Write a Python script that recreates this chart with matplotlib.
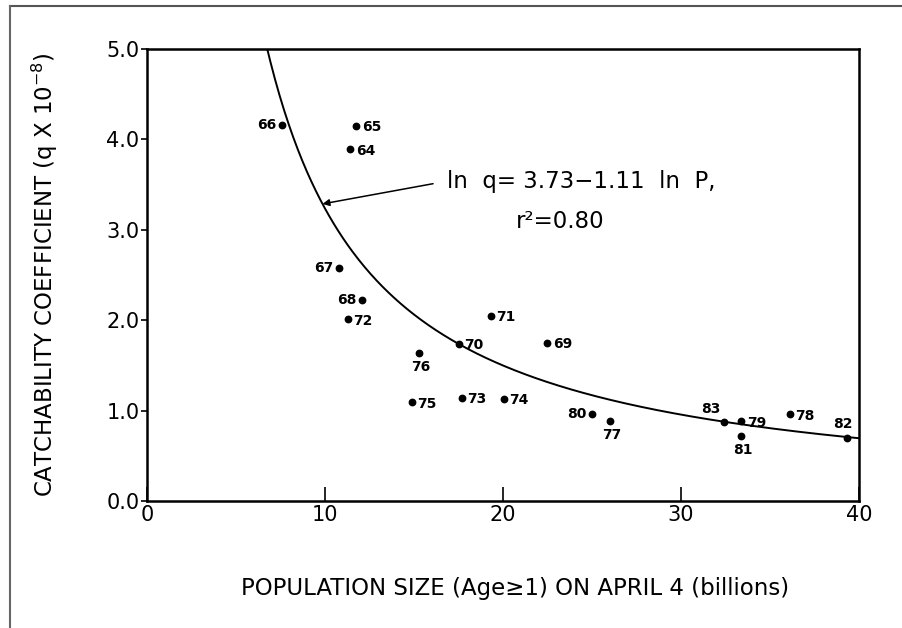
import numpy as np
import matplotlib
matplotlib.use("Agg")
import matplotlib.pyplot as plt
from matplotlib.lines import Line2D

plt.rcParams['font.family'] = ['DejaVu Sans']

# ---- data ----
years = ["66", "65", "64", "67", "68", "72", "71", "70", "69", "76", "75",
         "73", "74", "80", "77", "83", "79", "81", "78", "82"]
pop = [7.57, 11.76, 11.42, 10.79, 12.06, 11.28, 19.31, 17.51, 22.49, 15.30,
       14.87, 17.68, 20.06, 25.00, 26.03, 32.43, 33.39, 33.39, 36.11, 39.31]
q = [4.16, 4.15, 3.89, 2.58, 2.22, 2.01, 2.05, 1.74, 1.75, 1.64,
     1.09, 1.14, 1.13, 0.96, 0.885, 0.877, 0.88, 0.72, 0.96, 0.70]
# label placement: 'l' left, 'r' right, 'b' below, 'a' above-left, 'u' above
label_side = ["l", "r", "r", "l", "l", "r", "r", "r", "r", "b", "r",
              "r", "r", "l", "b", "a", "r", "b", "r", "u"]
intercept = 3.73
slope = 1.11
x_ticks = [0, 10, 20, 30, 40]
y_ticks = [0.0, 1.0, 2.0, 3.0, 4.0, 5.0]

fig = plt.figure(figsize=(9.02, 6.28), dpi=100)
ax = fig.add_axes([147/902, 1-501/628, (859-147)/902, (501-49)/628])

# regression curve
P = np.linspace(6.0, 40, 400)
Q = np.exp(intercept - slope*np.log(P))
ax.plot(P, Q, color='black', lw=1.4, zorder=2)

ax.plot(pop, q, 'o', color='black', ms=4.6, zorder=3)

offsets = {"l": (-4, 0, 'right', 'center'),
           "r": (4, -1, 'left', 'center'),
           "b": (1, -5, 'center', 'top'),
           "a": (-10, 4, 'center', 'bottom'),
           "u": (-3, 5, 'center', 'bottom')}
for lab, x, y, s in zip(years, pop, q, label_side):
    dx, dy, ha, va = offsets[s]
    ax.annotate(lab, (x, y), xytext=(dx, dy), textcoords='offset points',
                ha=ha, va=va, fontsize=10, fontweight='bold', zorder=4)

# equation annotation
ax.annotate("", xy=(9.86, np.exp(intercept - slope*np.log(9.86))),
            xytext=(16.07, 3.51),
            arrowprops=dict(arrowstyle='-|>', color='black', lw=1.1,
                            mutation_scale=10, shrinkA=0, shrinkB=0))
ax.text(16.85, 3.53, "ln  q= 3.73\u22121.11  ln  P,", fontsize=16.5,
        ha='left', va='center')
ax.text(20.73, 3.09, "r\u00b2=0.80", fontsize=16.5, ha='left', va='center')

ax.set_xlim(0, 40)
ax.set_ylim(0, 5)
ax.set_xticks(x_ticks)
ax.set_xticklabels([str(t) for t in x_ticks], fontsize=15)
ax.set_yticks(y_ticks)
ax.set_yticklabels([f"{t:.1f}" for t in y_ticks], fontsize=15)
ax.tick_params(axis='x', direction='in', length=10, width=1.2, pad=3)
ax.tick_params(axis='y', direction='out', length=4, width=1.2, pad=1.5)
for sp in ax.spines.values():
    sp.set_linewidth(1.8)

fig.text(515/902, 1-588/628, "POPULATION SIZE (Age\u22651) ON APRIL 4 (billions)",
         fontsize=16.5, ha='center', va='center')
fig.text(45/902, 1-275/628, "CATCHABILITY COEFFICIENT (q X 10$^{-8}$)",
         fontsize=16.5, ha='center', va='center', rotation=90)

# scan frame lines
fig.add_artist(Line2D([10/902, 1], [1-6/628, 1-6/628], color='#555555', lw=1.5,
                      transform=fig.transFigure))
fig.add_artist(Line2D([10/902, 10/902], [0, 1-6/628], color='#666666', lw=1.5,
                      transform=fig.transFigure))

fig.savefig("out.png", dpi=100)
